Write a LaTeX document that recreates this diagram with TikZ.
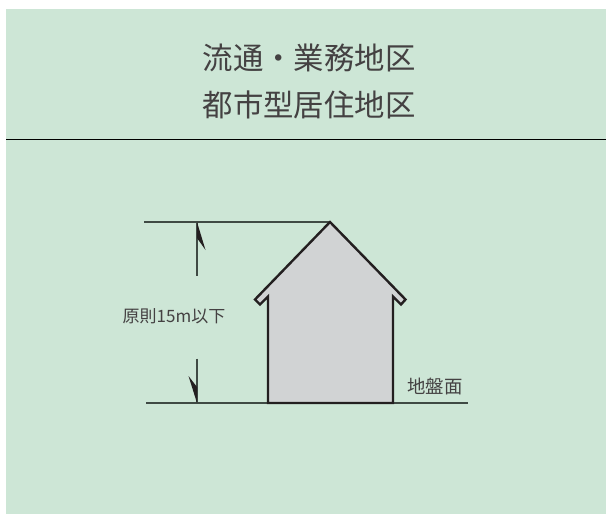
\documentclass[tikz,border=0pt]{standalone}
\usepackage{fontspec}
\setmainfont{Liberation Sans}
\newfontfamily\cjk{Noto Sans CJK JP}
\definecolor{panelbg}{HTML}{CDE6D6}
\definecolor{housefill}{HTML}{D1D3D4}
\definecolor{inkc}{HTML}{231F20}
\definecolor{dimc}{HTML}{3F4A44}
\tikzset{
  titletext/.style={font=\cjk\fontsize{30.4}{30.4}\selectfont, text=inkc!85, inner sep=0pt, anchor=center},
  labeltext/.style={font=\cjk\fontsize{17}{17}\selectfont, text=inkc!85, inner sep=0pt, anchor=center},
  grndtext/.style={font=\cjk\fontsize{18.4}{18.4}\selectfont, text=inkc!85, inner sep=0pt, anchor=center},
  dimline/.style={draw=dimc, line width=1.1pt},
  barb/.style={fill=inkc, draw=none},
  houseline/.style={draw=inkc, line width=2.4pt, fill=housefill, miter limit=10}
}
\begin{document}
\begin{tikzpicture}[x=1pt,y=-1pt]
\useasboundingbox (0,0) rectangle (606,514);
\fill[panelbg] (6,8.5) rectangle (606,514);
\draw[draw=black, line width=1.2pt] (6,139.7) -- (606,139.7);
\node[titletext] (t1) at (309,58) {流通・業務地区};
\node[titletext] (t2) at (309,105) {都市型居住地区};
% dimension lines
\coordinate (topL) at (144,222);
\coordinate (apex) at (330,222);
\coordinate (botL) at (146,403);
\coordinate (botR) at (468,403);
\draw[dimline] (topL) -- (apex);
\draw[dimline] (botL) -- (botR);
\coordinate (arT) at (197,222);
\coordinate (arB) at (197,403);
\draw[dimline] (arT) -- (197,275.5);
\draw[dimline] (197,358.5) -- (arB);
\fill[barb] (arT) -- (205.5,250) -- (197,238) -- cycle;
\fill[barb] (arB) -- (188.5,376) -- (197,387) -- cycle;
% house
\draw[houseline] (apex) -- (405.5,299.5) -- (401,304.5) -- (393,296.5) -- (393,403) -- (268,403) -- (268,296.5) -- (260,304.5) -- (255,299.5) -- cycle;
\node[labeltext] (h) at (174,316) {原則15m以下};
\node[grndtext] (g) at (435,386.5) {地盤面};
\end{tikzpicture}
\end{document}
